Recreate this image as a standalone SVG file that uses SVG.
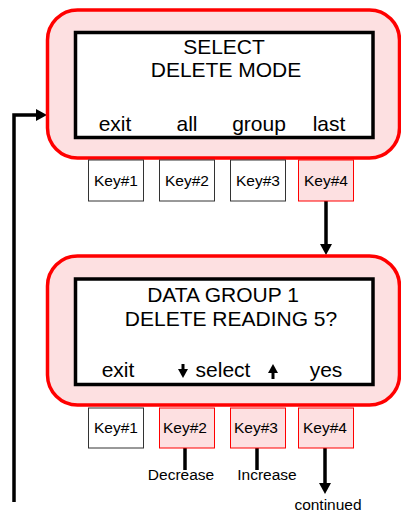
<svg xmlns="http://www.w3.org/2000/svg" width="401" height="512" viewBox="0 0 401 512">
<style>
.outer{fill:#fde0e1;stroke:#ff0000;stroke-width:3.5}
.inner{fill:#ffffff;stroke:#000000;stroke-width:3.5}
.t{font-family:"Liberation Sans",Arial,sans-serif;fill:#000;text-anchor:middle}
.big{font-size:21px}
.key{font-size:15.5px}
.sm{font-size:15.5px}
.kw{fill:#ffffff;stroke:#333333;stroke-width:1}
.kp{fill:#fde0e1;stroke:#ff0000;stroke-width:1}
.ln{fill:none;stroke:#000;stroke-width:3.5}
</style>
<g id="connectors">
<polyline class="ln" points="14,502 14,115 37,115"/>
<path d="M36,109 L47,115 L36,121 Z" fill="#000"/>
<line class="ln" x1="326" y1="201" x2="326" y2="245"/>
<path d="M320,244 L326,255 L332,244 Z" fill="#000"/>
<line class="ln" x1="185" y1="448" x2="185" y2="470"/>
<line class="ln" x1="257" y1="448" x2="257" y2="470"/>
<line class="ln" x1="325" y1="448" x2="325" y2="484"/>
<path d="M319,483 L325,494 L331,483 Z" fill="#000"/>
</g>
<g id="screen1">
<rect class="outer" x="47.5" y="10" width="352" height="148" rx="30" ry="30"/>
<rect class="inner" x="75.5" y="32.5" width="297.5" height="105"/>
<text class="t big" x="224" y="54">SELECT</text>
<text class="t big" x="226" y="77">DELETE MODE</text>
<text class="t big" x="115" y="131">exit</text>
<text class="t big" x="187" y="131">all</text>
<text class="t big" x="259" y="131">group</text>
<text class="t big" x="329" y="131">last</text>
</g>
<g id="keys1">
<rect class="kw" x="88.5" y="160" width="55" height="41"/>
<text class="t key" x="116" y="186">Key#1</text>
<rect class="kw" x="159.5" y="160" width="55" height="41"/>
<text class="t key" x="187" y="186">Key#2</text>
<rect class="kw" x="230.5" y="160" width="55" height="41"/>
<text class="t key" x="258" y="186">Key#3</text>
<rect class="kp" x="298.5" y="160" width="55" height="41"/>
<text class="t key" x="326" y="186">Key#4</text>
</g>
<g id="screen2">
<rect class="outer" x="47.5" y="256" width="352" height="149" rx="30" ry="30"/>
<rect class="inner" x="75.5" y="279" width="297.5" height="105.5"/>
<text class="t big" x="223" y="302">DATA GROUP 1</text>
<text class="t big" x="231" y="326">DELETE READING 5?</text>
<text class="t big" x="118" y="377">exit</text>
<text class="t big" x="223" y="377">select</text>
<text class="t big" x="326" y="377">yes</text>
<line x1="183" y1="364" x2="183" y2="371" stroke="#000" stroke-width="3"/>
<path d="M178,369 L183,378 L188,369 Z" fill="#000"/>
<line x1="273" y1="371" x2="273" y2="379" stroke="#000" stroke-width="3"/>
<path d="M268,373 L273,364 L278,373 Z" fill="#000"/>
</g>
<g id="keys2">
<rect class="kw" x="88.5" y="408" width="55" height="40"/>
<text class="t key" x="116" y="433">Key#1</text>
<rect class="kp" x="159.5" y="408" width="55" height="40"/>
<text class="t key" x="185" y="433">Key#2</text>
<rect class="kp" x="230.5" y="408" width="55" height="40"/>
<text class="t key" x="256" y="433">Key#3</text>
<rect class="kp" x="298.5" y="408" width="55" height="40"/>
<text class="t key" x="325" y="433">Key#4</text>
</g>
<g id="labels">
<text class="t sm" x="181" y="480">Decrease</text>
<text class="t sm" x="267" y="480">Increase</text>
<text class="t sm" x="328" y="510">continued</text>
</g>
</svg>
